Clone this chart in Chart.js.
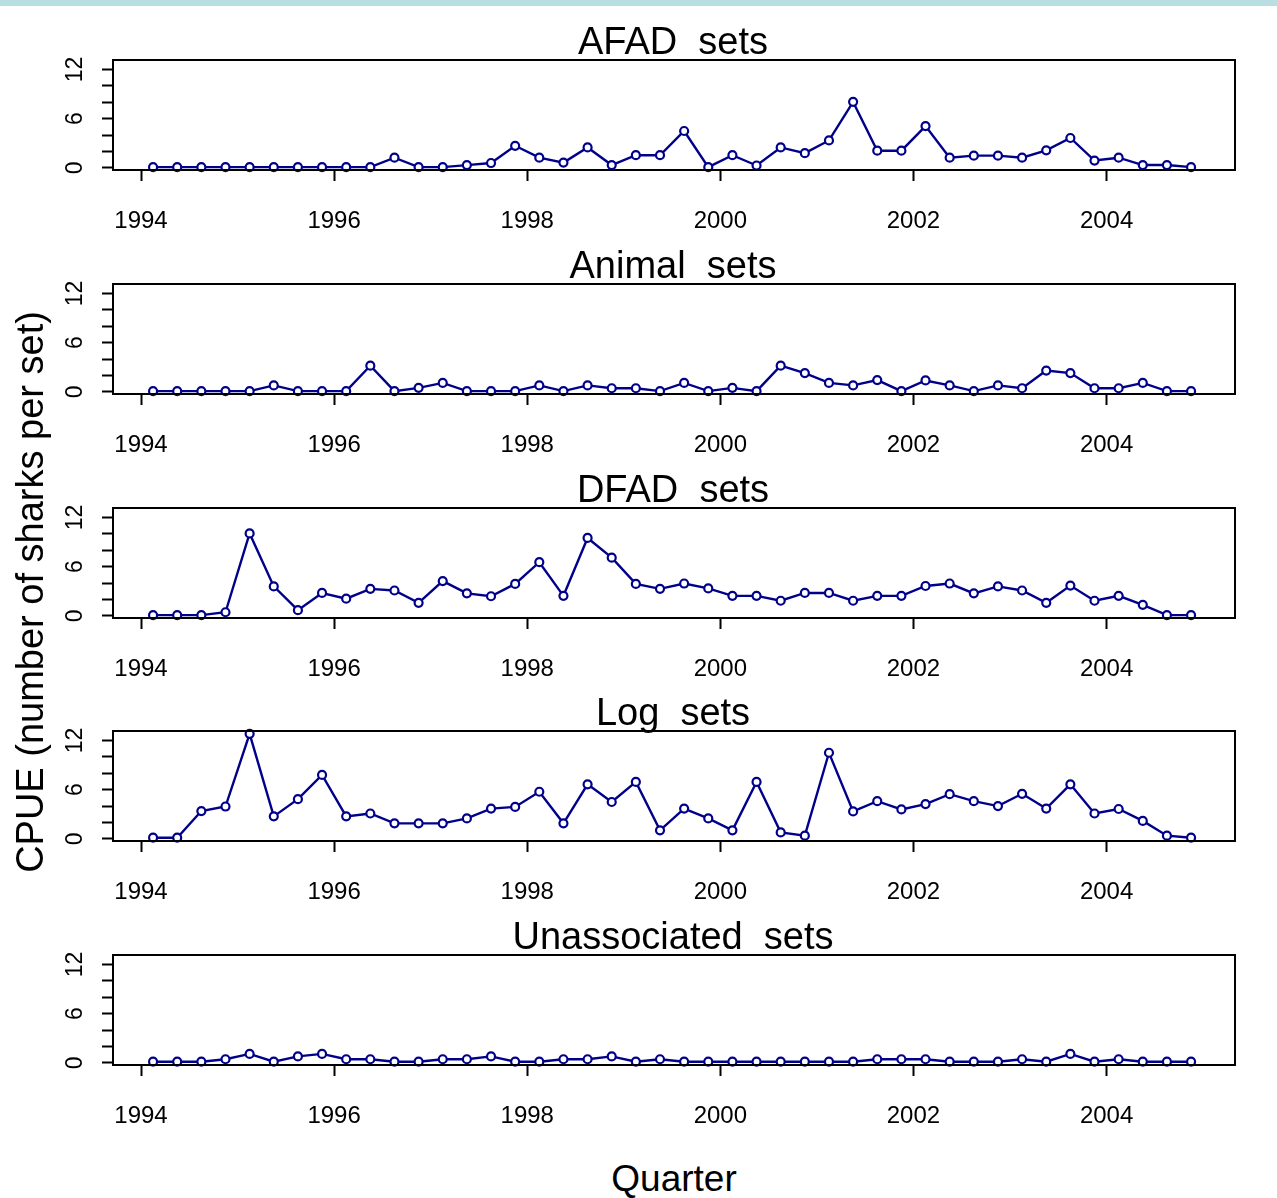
<!DOCTYPE html>
<html>
<head>
<meta charset="utf-8">
<script src="https://cdn.jsdelivr.net/npm/chart.js@4/dist/chart.umd.min.js"></script>
<style>
html,body{margin:0;padding:0;background:#fff;}
body{width:1277px;height:1198px;position:relative;overflow:hidden;font-family:"Liberation Sans",Arial,sans-serif;}
#topbar{position:absolute;left:0;top:0;width:1277px;height:6px;background:#b9dfe2;}
.panel{position:absolute;left:0;width:1277px;height:240px;pointer-events:none;}
#ylab{position:absolute;left:-320px;top:570px;width:700px;height:44px;line-height:44px;font-size:38px;text-align:center;color:#000;transform:rotate(-90deg);transform-origin:50% 50%;white-space:nowrap;}
#xlab{position:absolute;left:374px;top:1157px;width:600px;height:44px;line-height:44px;font-size:37px;text-align:center;color:#000;white-space:nowrap;}
</style>
</head>
<body>
<div id="topbar"></div>
<canvas id="c0" class="panel" width="1277" height="240"></canvas>
<canvas id="c1" class="panel" width="1277" height="240"></canvas>
<canvas id="c2" class="panel" width="1277" height="240"></canvas>
<canvas id="c3" class="panel" width="1277" height="240"></canvas>
<canvas id="c4" class="panel" width="1277" height="240"></canvas>
<div id="ylab">CPUE (number of sharks per set)</div>
<div id="xlab">Quarter</div>
<script>
// ---- data ----
const quarters = [1994.125,1994.375,1994.625,1994.875,1995.125,1995.375,1995.625,1995.875,
  1996.125,1996.375,1996.625,1996.875,1997.125,1997.375,1997.625,1997.875,
  1998.125,1998.375,1998.625,1998.875,1999.125,1999.375,1999.625,1999.875,
  2000.125,2000.375,2000.625,2000.875,2001.125,2001.375,2001.625,2001.875,
  2002.125,2002.375,2002.625,2002.875,2003.125,2003.375,2003.625,2003.875,
  2004.125,2004.375,2004.625,2004.875];
const panelTitles = ["AFAD  sets","Animal  sets","DFAD  sets","Log  sets","Unassociated  sets"];
const afadSets = [0.1,0.1,0.1,0.1,0.1,0.1,0.1,0.1,0.1,0.1,1.25,0.1,0.1,0.35,0.6,2.7,1.25,0.65,2.5,0.35,1.55,1.55,4.5,0.1,1.55,0.3,2.5,1.8,3.35,8.05,2.1,2.1,5.1,1.25,1.5,1.5,1.25,2.15,3.65,0.9,1.25,0.35,0.35,0.1];
const animalSets = [0.1,0.1,0.1,0.1,0.1,0.8,0.1,0.1,0.1,3.2,0.1,0.5,1.1,0.1,0.1,0.1,0.8,0.1,0.8,0.45,0.45,0.1,1.1,0.1,0.5,0.1,3.2,2.3,1.1,0.8,1.45,0.1,1.4,0.8,0.1,0.8,0.45,2.6,2.3,0.45,0.45,1.1,0.1,0.1];
const dfadSets = [0.1,0.1,0.1,0.45,10.05,3.6,0.7,2.8,2.1,3.3,3.1,1.6,4.25,2.75,2.4,3.9,6.55,2.45,9.5,7.1,3.9,3.3,3.95,3.35,2.45,2.45,1.85,2.8,2.8,1.85,2.45,2.45,3.65,3.95,2.75,3.6,3.1,1.6,3.7,1.85,2.45,1.35,0.1,0.1];
const logSets = [0.15,0.15,3.4,3.95,12.8,2.75,4.85,7.8,2.75,3.1,1.9,1.9,1.9,2.5,3.7,3.9,5.75,1.9,6.65,4.5,6.95,1.05,3.7,2.5,1.05,6.95,0.8,0.4,10.5,3.35,4.6,3.6,4.25,5.45,4.6,4.0,5.5,3.7,6.65,3.1,3.65,2.2,0.4,0.15];
const unassociatedSets = [0.15,0.15,0.15,0.45,1.1,0.15,0.8,1.1,0.45,0.45,0.15,0.15,0.45,0.45,0.8,0.15,0.15,0.45,0.45,0.8,0.15,0.45,0.15,0.15,0.15,0.15,0.15,0.15,0.15,0.15,0.45,0.45,0.45,0.15,0.15,0.15,0.45,0.15,1.1,0.15,0.45,0.15,0.15,0.15];
const xTickYears = [1994,1996,1998,2000,2002,2004];
const yTickValues = [0,2,4,6,8,10,12];
const yTickLabels = [0,6,12];

// ---- layout / style ----
const seriesList = [afadSets, animalSets, dfadSets, logSets, unassociatedSets];
const boxTops = [60, 283.75, 507.5, 731.25, 955];
const FONT = '"Liberation Sans", Arial, sans-serif';
const LINE = '#00008b';

const boxPlugin = {
  id: 'rbox',
  afterDraw(chart) {
    const {ctx, chartArea: a} = chart;
    ctx.save();
    ctx.strokeStyle = '#000';
    ctx.lineWidth = 2;
    ctx.strokeRect(a.left, a.top, a.right - a.left, a.bottom - a.top);
    ctx.fillStyle = '#000';
    ctx.font = '38px ' + FONT;
    ctx.textAlign = 'center';
    ctx.textBaseline = 'alphabetic';
    ctx.fillText(chart.options.plugins.rbox.title, (a.left + a.right) / 2 - 1, a.top - 6);
    ctx.restore();
  }
};

seriesList.forEach((vals, i) => {
  const cv = document.getElementById('c' + i);
  cv.style.top = (boxTops[i] - 60) + 'px';
  new Chart(cv.getContext('2d'), {
    type: 'line',
    data: {
      datasets: [{
        data: quarters.map((q, k) => ({x: q, y: vals[k]})),
        borderColor: LINE,
        borderWidth: 2.4,
        pointRadius: 4,
        pointBorderWidth: 2.2,
        pointBackgroundColor: '#fff',
        pointBorderColor: LINE,
        tension: 0,
        fill: false,
        clip: false
      }]
    },
    options: {
      responsive: false,
      animation: false,
      devicePixelRatio: 1,
      layout: {padding: {left: 0, right: 42, top: 60, bottom: 0}},
      plugins: {legend: {display: false}, tooltip: {enabled: false}, title: {display: false}, rbox: {title: panelTitles[i]}},
      scales: {
        x: {
          type: 'linear', min: 1993.71, max: 2005.33,
          afterBuildTicks: s => { s.ticks = xTickYears.map(v => ({value: v})); },
          afterFit: s => { s.height = 70; },
          grid: {display: true, drawOnChartArea: false, drawTicks: true, tickLength: 11, tickColor: '#000', tickWidth: 2},
          border: {display: false},
          ticks: {color: '#000', font: {size: 24, family: FONT}, padding: 26, maxRotation: 0, minRotation: 0, autoSkip: false, callback: v => String(v)}
        },
        y: {
          type: 'linear', min: -0.25, max: 13.15,
          afterBuildTicks: s => { s.ticks = yTickValues.map(v => ({value: v})); },
          afterFit: s => { s.width = 113; },
          grid: {display: true, drawOnChartArea: false, drawTicks: true, tickLength: 11, tickColor: '#000', tickWidth: 2},
          border: {display: false},
          ticks: {color: '#000', font: {size: 23, family: FONT}, padding: 14, minRotation: 90, maxRotation: 90, crossAlign: 'center', autoSkip: false,
            callback: v => yTickLabels.includes(v) ? String(v) : ''}
        }
      }
    },
    plugins: [boxPlugin]
  });
});
</script>
</body>
</html>
